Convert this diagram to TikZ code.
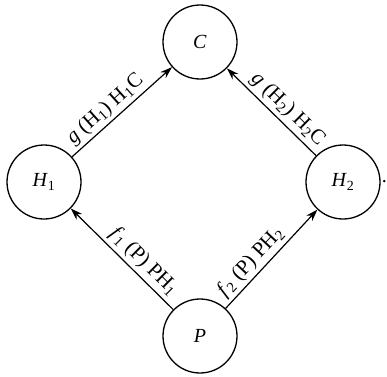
\documentclass[tikz,border=0pt]{standalone}
\usepackage{fontspec}
\setmainfont{Liberation Serif}
\usetikzlibrary{arrows.meta}
\newcommand{\sbs}[1]{\textsubscript{#1}}
\begin{document}
\begin{tikzpicture}[x=1pt,y=1pt,
  state/.style={circle,draw,line width=1.3pt,minimum size=74pt,inner sep=0pt,font=\fontsize{20}{22}\selectfont},
  arr/.style={line width=1.2pt,-{Stealth[length=12pt,width=8pt]}},
  lab/.style={sloped,above,font=\fontsize{21}{24}\selectfont,inner sep=3pt}]
\useasboundingbox (0,0) rectangle (387,376);
\node[state] (C) at (200,334) {\textit{C}};
\node[state] (H1) at (44,194) {\textit{H}\sbs{1}};
\node[state] (H2) at (343,194) {\textit{H}\sbs{2}};
\node[state] (P) at (200,40) {\textit{P}};
\node[anchor=west,inner sep=1pt,font=\fontsize{20}{22}\selectfont] (dot) at (H2.east) {.};
\draw[arr] (H1) -- node[lab,pos=0.42] {\textit{g} (H\sbs{1}) H\sbs{1}C} (C);
\draw[arr] (H2) -- node[lab,pos=0.42] {\textit{g} (H\sbs{2}) H\sbs{2}C} (C);
\draw[arr] (P) -- node[lab,pos=0.38] {\textit{f}\sbs{1} (P) PH\sbs{1}} (H1);
\draw[arr] (P) -- node[lab,pos=0.38] {\textit{f}\sbs{2} (P) PH\sbs{2}} (H2);
\end{tikzpicture}
\end{document}
